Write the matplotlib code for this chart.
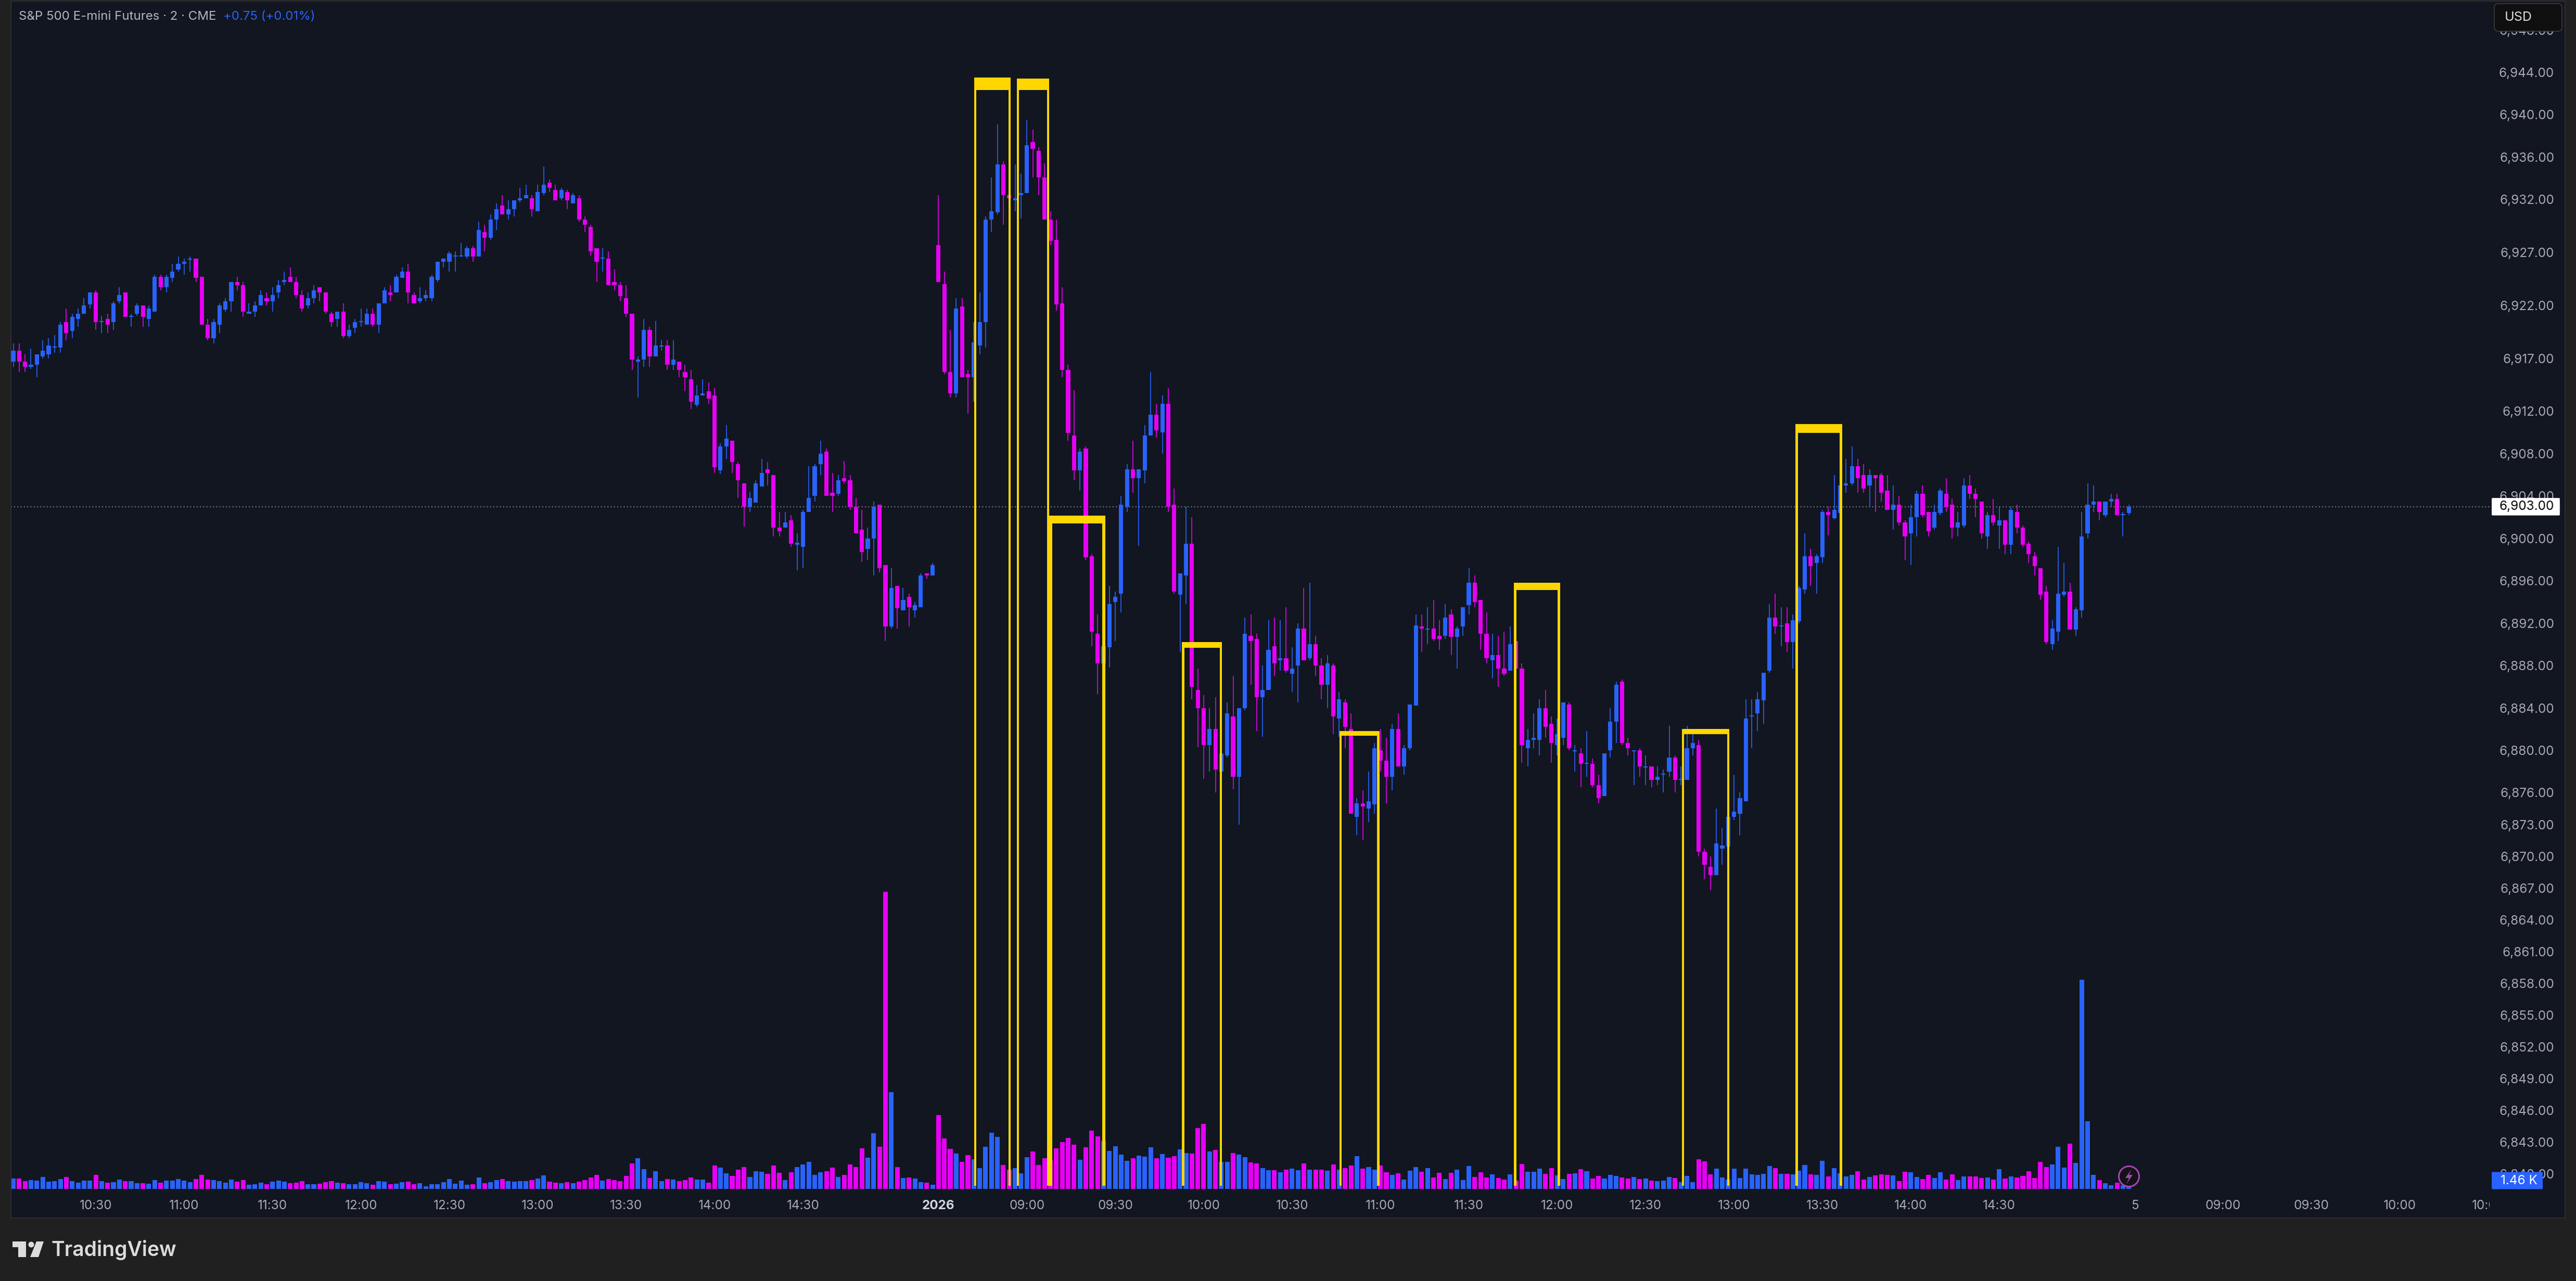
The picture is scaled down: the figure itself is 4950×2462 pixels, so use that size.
import numpy as np
import matplotlib
matplotlib.use("Agg")
import matplotlib.pyplot as plt
from matplotlib.patches import Rectangle, FancyBboxPatch, Circle, Polygon
from matplotlib.transforms import Affine2D, Bbox
from matplotlib.ticker import FuncFormatter

plt.rcParams['font.family'] = ['Inter', 'DejaVu Sans']

high = [
6918.4,6918.4,6917.4,6917.9,6917.4,6918.7,6918.9,6919.2,6920.4,6921.7,
6921.2,6921.7,6922.7,6923.2,6923.4,6921,6921.2,6922.4,6923.7,6923.2,
6921.2,6922.2,6922,6922,6924.9,6924.9,6924.9,6925.9,6926.6,6926.4,
6926.6,6926.4,6924.7,6920.7,6920.7,6922.2,6922.7,6924.2,6924.7,6924.2,
6922.2,6922.4,6923.4,6923.2,6923.7,6924.4,6925.2,6925.6,6924.7,6923.4,
6923.2,6923.9,6923.7,6923.2,6921.4,6921.4,6922.2,6920.2,6920.7,6921.7,
6921.7,6921.7,6922.2,6923.7,6923.9,6924.9,6925.6,6925.9,6923.2,6923.7,
6923.4,6924.9,6926.1,6926.4,6927.1,6927.1,6927.9,6927.6,6927.6,6929.9,
6929.6,6930.6,6931.6,6932.4,6931.9,6931.9,6933.1,6933.4,6932.4,6933.4,
6935.1,6933.9,6933.4,6933.1,6932.9,6932.6,6932.4,6930.4,6929.6,6927.4,
6927.4,6927.1,6925.4,6924.2,6923.9,6921.2,6917.2,6920.7,6920,6920.5,
6918.7,6918.7,6918.7,6916.7,6916.4,6915.9,6914.5,6915,6914.7,6914.2,
6909,6910.7,6909.2,6907.2,6905.2,6904.4,6905.5,6907.5,6907.2,6906,
6902.5,6902.5,6902.2,6900.5,6902.7,6906.8,6907,6909.2,6908.5,6906.2,
6906,6907.3,6906,6903.8,6902.7,6901,6903.5,6903.2,6897.5,6897.2,
6895.5,6895.3,6894.8,6894,6896.7,6896.7,6897.7,6932.4,6925.2,6919.7,
6922.7,6922.7,6915.9,6920.4,6923.2,6930.4,6934.1,6939.1,6935.6,6932.4,
6935.3,6934.4,6939.5,6938.6,6936.9,6935.4,6930.9,6930.1,6923.7,6916.4,
6914,6908.5,6908.7,6898.5,6892.8,6889.8,6895.5,6895,6904,6907,
6909.2,6906.5,6910.7,6915.7,6912.7,6913.5,6914.2,6904.7,6896.7,6903,
6902,6887.7,6885.2,6884,6885,6879.7,6884.5,6887,6884,6892.5,
6892.8,6891,6888,6892.3,6892.5,6892.3,6893.5,6889.7,6892,6895.3,
6895.8,6890.8,6888.7,6889,6888.2,6885.5,6884.8,6883.5,6875.5,6876.2,
6878,6880.7,6882,6881.2,6882.5,6883.5,6880.5,6884.3,6892.8,6892.8,
6893.5,6894.2,6892.3,6893.8,6893.3,6891.7,6893.5,6897.2,6896.5,6894.2,
6893,6891,6890.8,6891.2,6891.7,6890.3,6888.2,6882,6883.5,6884.8,
6885.7,6883.2,6883,6884.5,6884.5,6880.5,6880.2,6881.8,6879.2,6877.7,
6879.7,6884,6886.5,6886.7,6881.2,6880,6880.2,6879.5,6878.5,6878.5,
6878.2,6882.3,6879.5,6878.5,6882.3,6881.5,6881,6870.7,6870,6874.5,
6872.7,6873.7,6877.7,6876,6884.8,6884.8,6885.5,6887.3,6893.8,6894.8,
6893.5,6893.5,6892.8,6895.5,6900.5,6899,6898.5,6902.7,6903,6906,
6905,6907.5,6908.7,6907.5,6907,6906.5,6906,6906.2,6906,6905,
6904,6901.7,6903.2,6904.5,6905,6902.5,6903.2,6904.7,6905.7,6903.7,
6902.5,6905.7,6906,6904.7,6903.5,6902.5,6903.7,6903,6901.7,6903,
6903.2,6901.2,6899.7,6898.7,6897.2,6895.5,6892.3,6899.2,6897.7,6895.8,
6893.5,6902.5,6905.2,6905,6903.5,6903.5,6904.2,6904.2,6902.5,6903.2]

body_top = [
6917.7,6917.7,6916.7,6916.4,6917.4,6917.7,6918.2,6918.1,6920.2,6920.4,
6920.9,6921.2,6922,6923.2,6923.2,6920.5,6920.7,6922.2,6923,6923.2,
6921,6922,6922,6921.7,6924.7,6924.7,6924.7,6925.2,6925.9,6926.1,
6926.4,6926.4,6924.7,6920.2,6920.4,6922,6922.4,6924.2,6924.2,6923.9,
6921.4,6922,6923,6922.7,6923,6923.9,6924.4,6924.7,6924.2,6923,
6922.7,6923.4,6923.7,6923.2,6921.2,6921.4,6921.4,6919.7,6920.4,6920.5,
6921.2,6921.2,6922.2,6923.4,6923.2,6924.7,6925.2,6925.2,6923,6922.7,
6923,6924.7,6926.1,6926.4,6926.9,6926.7,6926.7,6927.4,6927.4,6929.1,
6928.9,6930.1,6931.1,6931.4,6931.1,6931.9,6932.1,6932.4,6932.1,6932.7,
6933.4,6933.6,6932.9,6932.9,6932.7,6932.4,6932.1,6930.1,6929.4,6927.4,
6926.5,6926.4,6924.2,6923.9,6922.7,6921.2,6916.9,6919.7,6919.7,6918.2,
6918.2,6918.2,6916.9,6916.7,6915.7,6915,6913.5,6913.7,6913.9,6913.5,
6908.7,6909.4,6909.2,6907,6905.2,6903.8,6905.2,6906.2,6906.5,6906,
6901,6901.5,6901.7,6899.6,6902.5,6903.8,6906.8,6908,6908.2,6904.3,
6905.5,6905.7,6905.5,6903,6900.8,6900,6903,6903.2,6897.5,6895.3,
6895.5,6894.2,6894.5,6893.7,6896.5,6896.7,6897.5,6927.7,6924,6915.7,
6921.7,6921.9,6915.5,6918.5,6920.4,6930.1,6930.9,6935.3,6935.3,6932.4,
6932.1,6932.6,6937.1,6937.4,6936.6,6934.1,6930.1,6928.2,6922.2,6915.9,
6909.7,6908.2,6908.5,6898.3,6891,6889.8,6893.8,6894.5,6903.2,6906.5,
6906.5,6906.5,6909.7,6911.7,6911.7,6912.7,6912.7,6903.2,6896.7,6899.5,
6899.5,6885.7,6884,6882,6882,6879.7,6883.5,6883.2,6884,6891,
6890.8,6890.5,6885.7,6889.5,6889.8,6888.7,6888.7,6887.7,6891.5,6891.5,
6890,6890,6888,6888.2,6888,6884.8,6884.5,6882,6875,6875,
6875.2,6880.2,6880,6879,6882,6882,6880.2,6884.3,6891.8,6891.7,
6891.5,6891.5,6890.8,6892.5,6892.8,6891.5,6893.5,6895.8,6895.8,6894.2,
6891,6889,6889,6887.7,6890,6890.3,6887.7,6881,6881.2,6884,
6884,6882.5,6881.5,6884.5,6884.3,6880,6879.7,6878.8,6878.7,6876.7,
6879.7,6882.7,6886.2,6886.5,6880.7,6880,6880,6878.5,6878.5,6877.5,
6877.8,6879.3,6879.3,6877.3,6880.2,6880.7,6880.5,6870.4,6869,6871.2,
6871,6873.7,6874.2,6875.5,6883,6883.3,6884.8,6887.3,6892.5,6892.5,
6891.8,6892,6892.3,6895.3,6898.3,6898.3,6898.3,6902.5,6902.5,6902.7,
6905,6905.2,6906.8,6906.8,6906,6906,6906,6906,6904.5,6903.2,
6903.2,6901.5,6902,6904.2,6904.2,6902.5,6902.5,6904.5,6904.2,6903.2,
6901.5,6905,6905,6904.2,6903.5,6902.2,6902.2,6901.7,6901.7,6902.7,
6902.5,6901,6899.5,6898.3,6897.2,6895,6891.5,6894.8,6895,6895,
6893.3,6900.2,6903.2,6903.5,6903.5,6903.5,6903.7,6903.7,6902.3,6903]

body_bottom = [
6916.7,6916.7,6916.2,6916.2,6916.4,6917.2,6917.4,6918,6918,6919.4,
6919.6,6920.7,6921.2,6922.1,6920.4,6920.4,6920.2,6920.4,6922.4,6920.9,
6920.9,6921.2,6920.9,6920.7,6921.4,6923.7,6923.7,6924.6,6925.4,6925.9,
6926.3,6924.6,6920.2,6918.9,6918.9,6920.2,6921.6,6922.4,6923.9,6921.4,
6921.2,6921.4,6922,6922.4,6922.4,6923.2,6924.2,6924.2,6923,6921.7,
6922,6922.7,6923.2,6921.4,6920.4,6920.7,6919.1,6919.1,6919.9,6920.4,
6920.2,6920.2,6920.2,6922.2,6923,6923.2,6924.6,6923.2,6922.2,6922.4,
6922.7,6922.7,6924.4,6926.1,6926.1,6926.6,6926.6,6926.6,6926.6,6926.6,
6928.4,6928.4,6930.1,6930.6,6930.6,6931.1,6931.9,6932.1,6931.1,6930.9,
6932.6,6933.1,6931.9,6932.1,6931.9,6931.6,6930.1,6929.6,6927.1,6926.1,
6926.4,6923.9,6923.9,6922.9,6921.2,6916.9,6916.7,6916.9,6917.2,6917.2,
6918.1,6916.4,6916.4,6915.9,6915.2,6912.9,6912.6,6913.5,6913.2,6906.7,
6906.4,6908.7,6907.2,6905.5,6903,6903,6903.4,6904.9,6906.2,6901,
6900.7,6901,6899.5,6899.4,6899.2,6902.5,6904,6907,6904,6904,
6904.2,6905.4,6903,6900.5,6898.7,6899,6900,6897.2,6891.7,6891.7,
6893.4,6893.2,6893.5,6893.2,6893.5,6896.5,6896.5,6924.2,6915.7,6913.7,
6913.7,6915.2,6915.2,6915.2,6918.2,6920.4,6930.1,6930.8,6932.4,6932.1,
6931.9,6932.4,6932.6,6936.8,6934.1,6930.1,6928.1,6922.1,6915.9,6909.95,
6906.4,6906.4,6898.2,6891.2,6888.2,6888.2,6889.7,6894,6894.8,6903,
6905.7,6905.7,6906.4,6909.7,6910.2,6910,6903,6895,6894.7,6896.5,
6886,6884,6880.5,6880.5,6878.2,6878,6879.5,6877.5,6877.5,6884,
6890.3,6885,6885,6885.7,6888.2,6888.5,6887.5,6887.2,6888,6888.5,
6888.7,6888,6886.2,6886.2,6883.2,6883,6882.2,6874,6873.7,6874.7,
6874.5,6874.9,6879,6877.5,6877.5,6878.5,6878.5,6880.2,6884.2,6891.5,
6891.4,6890.5,6890.5,6890.8,6890.7,6890.7,6891.7,6893.7,6894,6891,
6888.7,6888.5,6887.7,6887.2,6887.5,6887.7,6880.5,6880.2,6881,6881,
6882.2,6880.7,6880.5,6881.2,6880.2,6879.9,6878.7,6878.7,6876.7,6875.5,
6875.7,6880,6882.7,6880.7,6880.2,6879.9,6878.5,6878.4,6877.2,6877.2,
6877.7,6878,6877.2,6877.2,6877.2,6880.2,6870.4,6869.2,6868.2,6868.2,
6870.7,6870.9,6873.7,6874,6875.2,6883.2,6883.5,6884.7,6887.5,6891.7,
6891.7,6890.2,6890.2,6892.2,6895.2,6897.4,6897.7,6898.2,6902.2,6901.9,
6902.4,6905,6905.2,6905.7,6904.7,6905,6905.7,6904.3,6902.7,6902.7,
6901.5,6900.2,6900.5,6902,6902.2,6900.7,6901,6902.4,6903,6901,
6901,6901.2,6904.2,6903.7,6900.5,6900.2,6901.5,6901.2,6899.4,6899.4,
6901,6899.4,6898.5,6897.4,6894.7,6890.2,6890,6891.2,6894.7,6891.4,
6891.4,6893.2,6900.5,6903.2,6902.5,6902.2,6903.5,6902.2,6902.2,6902.4]

low = [
6916.2,6915.7,6915.7,6916,6915.2,6917,6917,6917.5,6917.5,6918.7,
6918.9,6920,6921.2,6921.7,6919.7,6919.4,6919.4,6919.7,6922.2,6920.9,
6920,6921,6920,6920,6921.4,6923.4,6923.2,6924.2,6925.2,6924.9,
6925.2,6924.2,6920.2,6918.7,6918.4,6919.4,6921.4,6921.4,6923.4,6920.9,
6921.2,6920.9,6922,6922,6921.4,6922.7,6923.9,6924.2,6922.7,6921.4,
6921.7,6922.2,6922.4,6921.2,6920,6920,6918.9,6918.9,6919.4,6920,
6920.2,6920,6919.4,6922.2,6922.4,6923.2,6924.6,6922.2,6922.2,6922.2,
6922.4,6922.4,6924.2,6925.6,6925.2,6925.2,6926.6,6926.4,6926.1,6926.6,
6927.1,6928.2,6929.1,6930.6,6930.1,6930.4,6931.7,6932.1,6930.4,6930.9,
6932.4,6932.7,6931.9,6931.9,6931.1,6931.6,6929.9,6928.9,6926.7,6924.2,
6925.2,6923.9,6923.4,6922.4,6920.9,6915.9,6913.3,6916.2,6916.2,6917.2,
6917.7,6915.9,6915.9,6915.2,6913.9,6912.2,6912.4,6913.5,6912.7,6906.2,
6906.1,6907.5,6906.2,6903.8,6901.1,6902.5,6903.4,6904.9,6905,6900.2,
6900.2,6901,6899.2,6897,6897.2,6902.5,6903.5,6906,6904,6902.5,
6904,6905.2,6902.7,6900.5,6897.8,6898,6896.5,6896.8,6890.3,6891.5,
6891.5,6893.2,6891.7,6892.5,6893.5,6896.2,6896.5,6924.2,6915.5,6913.3,
6913.3,6915.2,6911.8,6912.9,6917.4,6918,6928.9,6930.6,6929.6,6931.9,
6930.9,6930.2,6932.6,6934.1,6932.4,6930.1,6927.7,6921.5,6915.2,6909.2,
6905.5,6904.5,6898,6889.8,6885.3,6887.8,6887.8,6890.3,6893,6902.5,
6904.3,6899.3,6905.2,6909.7,6909.5,6908,6902.5,6894.8,6889.3,6893.8,
6884.8,6880.3,6877.3,6878,6876,6878,6879.3,6876.3,6873,6883.8,
6886.2,6881.8,6881.3,6885.7,6887,6887.5,6887.3,6885.5,6884.5,6888.5,
6888.5,6887,6884.8,6884,6881.5,6881.3,6880.2,6874,6872,6871.5,
6873.2,6874,6878,6875,6876.2,6878.5,6877.7,6880,6884.2,6889.3,
6890,6890.3,6889.5,6890.5,6889,6887.7,6890.8,6892.8,6893.5,6889.5,
6888.2,6886.8,6886,6887,6887.5,6887,6878.8,6878.5,6880.2,6879.5,
6881.2,6878.8,6879.5,6880.5,6880,6878,6876.5,6877.5,6876.5,6875,
6875.7,6879.3,6880.7,6880.5,6879.5,6876.7,6877.5,6876.7,6876.5,6876.7,
6876,6877.5,6876,6876.7,6877.2,6879.5,6870,6867.8,6866.8,6868.2,
6869.2,6870.9,6873.4,6872,6875.2,6880.2,6881.8,6882.5,6887.3,6891,
6889.8,6889.3,6887.7,6892,6894.8,6895.5,6894.8,6897.7,6900.3,6901.8,
6902.4,6904.3,6905,6904.3,6904.3,6903,6902.5,6903.5,6902.7,6900.8,
6901.2,6898,6897.5,6900.2,6902,6900.2,6900.8,6902.2,6902.5,6900,
6900.2,6901,6903.7,6902,6900,6899,6901.2,6899,6898.5,6898.5,
6900.5,6899.2,6897.7,6896.5,6894.2,6890,6889.5,6890.3,6894.5,6891.4,
6890.8,6892.5,6900,6902.5,6901.7,6902,6903,6902.2,6900.2,6902.2]

# b = close above open (blue), m = close below open (magenta)
direction = (
"bmmbbbbbbm" "bbbbmbmbbm" "bbmbbmbbbb" "bmmmbbbbmm" "bbbmbbbmmm"
"bbmmmbmbbb" "bmbbmbbmmb" "bbbbbbbbmb" "mbbmbbbbmb" "bmmbmbmmmm"
"bmmmmmbbmb" "bmbmmmbbmm" "bbmmmbbbmm" "mbmbbbbbmm" "bmmmmbbmmb"
"mbmbbmbmmm" "bmmbbbbbmm" "bbbmmmmmmm" "mbmmmbbbbb" "mbbbmbmmbb"
"mmmbmbbmbb" "mmbbmbmbbm" "bmmbmbmmbm" "bbmmbmbbbm" "bmmbmbbbmm"
"mbmmbmmbbb" "mmbbmbmbmm" "bbbmmbmbmb" "bbmbbbmmmb" "bbbbbbbbbm"
"bmbbbmbbmb" "bbbmmbmmmb" "mmbbmmbbmm" "bbmmmbmbmb" "mmmmmmbbbm"
"bbbbmbbmbb")

volume_k = [
2.4,2.4,1.8,2.0,1.9,2.8,1.7,1.8,2.3,2.8,
1.8,1.4,1.9,1.9,3.2,1.8,1.4,1.6,2.2,1.8,
1.8,1.3,1.3,1.2,2.0,1.4,1.9,1.9,2.3,1.9,
1.6,2.3,3.2,2.2,2.0,1.8,1.4,2.2,1.7,2.0,
1.0,1.1,1.4,1.1,1.7,1.9,1.7,1.3,1.4,1.8,
1.1,1.1,1.2,1.6,1.8,1.4,1.3,1.1,1.1,1.6,
1.3,1.0,1.8,1.7,1.1,1.2,1.6,1.7,1.1,1.3,
0.6,1.1,1.1,1.6,2.3,1.2,1.9,1.0,1.1,2.6,
1.3,1.6,2.0,2.3,1.8,1.7,1.8,1.8,2.0,2.4,
3.1,1.7,1.4,1.3,1.6,1.3,1.7,2.0,2.6,3.2,
1.9,2.3,2.0,1.8,3.0,5.9,7.1,4.6,2.5,4.1,
1.8,2.3,2.2,1.8,2.0,2.6,2.2,2.2,1.4,5.4,
4.9,3.6,3.0,4.4,5.0,2.8,4.1,4.0,3.5,5.4,
3.7,2.0,3.9,5.0,5.7,6.2,3.3,3.9,4.1,4.9,
2.8,3.3,5.7,5.1,9.4,7.2,12.8,9.7,68.5,22.3,
5.0,2.5,2.7,2.4,1.6,1.4,1.0,17.0,11.7,9.2,
8.2,6.3,7.8,6.9,4.8,9.7,13.0,12.0,5.5,4.5,
4.8,3.6,7.3,8.6,5.5,7.1,6.7,9.4,10.8,11.8,
10.2,6.7,9.6,13.4,12.1,11.0,8.8,9.8,7.9,6.5,
7.1,7.7,7.4,9.6,7.1,8.0,7.2,7.6,9.1,8.3,
8.2,14.1,15.0,8.6,9.0,6.3,6.3,8.3,7.9,7.3,
6.1,5.9,4.8,4.3,4.3,3.8,4.5,4.7,4.3,5.9,
4.5,4.5,4.5,4.2,5.6,4.5,4.8,5.4,7.6,4.7,
5.0,4.4,5.4,3.8,3.2,3.6,2.2,4.2,5.0,4.0,
4.8,2.6,3.7,2.3,3.7,4.4,2.0,5.3,2.8,3.8,
2.6,3.4,2.5,2.2,3.4,1.9,5.8,4.0,4.0,4.7,
3.5,4.8,3.1,2.3,3.5,3.6,4.6,4.1,2.4,3.0,
2.4,3.2,3.0,2.6,2.4,2.8,2.3,2.4,1.9,1.8,
1.9,2.8,2.5,1.6,3.0,1.6,6.8,6.4,3.4,4.7,
2.6,2.2,4.7,2.5,4.7,3.4,3.2,3.5,5.3,4.8,
3.5,3.5,3.4,4.2,5.5,3.4,3.2,6.5,2.9,4.8,
3.6,2.9,3.2,4.1,2.2,2.8,3.1,3.4,3.2,3.1,
1.8,4.0,3.8,2.8,2.3,3.2,2.5,3.8,2.2,3.4,
2.0,2.9,2.9,2.9,2.5,2.6,2.2,4.6,2.4,2.9,
2.6,3.0,4.1,2.5,6.2,5.1,5.6,9.7,4.9,10.4,
6.0,48.2,15.6,3.3,2.1,1.3,0.9,1.5,0.8,1.46]

price_ticks = [6948,6944,6940,6936,6932,6927,6922,6917,6912,6908,6904,6900,6896,6892,6888,
               6884,6880,6876,6873,6870,6867,6864,6861,6858,6855,6852,6849,6846,6843,6840]
time_ticks = [14,29,44,59,74,89,104,119,134,157,172,187,202,217,232,247,262,277,292,307,322,337,360,375,390,405,420]
time_labels = ["10:30","11:00","11:30","12:00","12:30","13:00","13:30","14:00","14:30","2026",
               "09:00","09:30","10:00","10:30","11:00","11:30","12:00","12:30","13:00","13:30",
               "14:00","14:30","5","09:00","09:30","10:00","10:00"]

# highlighted zones: first bar edge, last bar edge, top price, down to the bottom price
zone_left = [163.06,170.3,175.82,198.3,225.05,254.6,283.15,302.4]
zone_right = [169.24,175.8,185.3,205.1,231.85,262.5,291.2,310.4]
zone_top = [6943.5,6943.4,6902.15,6890.2,6881.8,6895.8,6882.0,6910.8]
zone_bottom = 6838.9
last_price = 6903.0

# ---- style / geometry ----
W, H = 4950, 2462
OUTER, PANE = '#202020', '#121620'
BLUE, MAG, GOLD = '#2962ff', '#e600f7', '#ffd600'
TXT = '#a6a8b0'
L_PX, R_PX, T_PX, B_PX = 21, 4929, 2, 2341
BAR0_PX, STEP_PX = 25.5, 11.324
PT_PX, P_REF, Y_REF = 20.36, 6903.0, 973.7
BASE_PX, K_PX = 2285, 8.33
zone_side_px = [4, 4, 6, 4.5, 4.5, 5.5, 4.5, 5.5]
zone_head_px = [24, 22, 15, 11, 9, 14, 10, 17]

fig = plt.figure(figsize=(W / 100, H / 100), dpi=100, facecolor=OUTER)
rect = [L_PX / W, 1 - B_PX / H, (R_PX - L_PX) / W, (B_PX - T_PX) / H]
xlim = ((L_PX - BAR0_PX) / STEP_PX, (R_PX - BAR0_PX) / STEP_PX)

axv = fig.add_axes(rect, zorder=1, facecolor=PANE)
ax = fig.add_axes(rect, zorder=2, facecolor='none')
px = Affine2D().scale(1, -1).translate(0, H)   # top-left pixel coordinates

x = np.arange(len(high))
high, body_top, body_bottom, low, volume_k = map(np.array, (high, body_top, body_bottom, low, volume_k))
assert all(len(a) == 360 for a in (high, body_top, body_bottom, low, volume_k, direction))
cols = [BLUE if d == 'b' else MAG for d in direction]

# volume pane
axv.bar(x, volume_k, width=0.8, color=cols, linewidth=0)
axv.set_xlim(*xlim)
axv.set_ylim(-(B_PX - BASE_PX) / K_PX, (BASE_PX - T_PX) / K_PX)
axv.axis('off')
axv.add_patch(Rectangle((0, 0), 1, 1, transform=axv.transAxes, color=PANE, zorder=-5))

# price pane
ax.plot([xlim[0], (4788 - BAR0_PX) / STEP_PX], [last_price, last_price], color='#b9bdc6', linewidth=1.1,
        linestyle=(0, (1.1, 3.0)), dash_capstyle='butt', zorder=1)
ax.vlines(x, low, high, colors=cols, linewidth=1.2, zorder=2)
ax.bar(x, body_top - body_bottom, bottom=body_bottom, width=0.72, color=cols, linewidth=0, zorder=3)

for l, r, t, s, h in zip(zone_left, zone_right, zone_top, zone_side_px, zone_head_px):
    sw, hh = s / STEP_PX, h / PT_PX
    ax.add_patch(Rectangle((l, zone_bottom), sw, t - zone_bottom, color=GOLD, linewidth=0, zorder=4))
    ax.add_patch(Rectangle((r - sw, zone_bottom), sw, t - zone_bottom, color=GOLD, linewidth=0, zorder=4))
    ax.add_patch(Rectangle((l, t - hh), r - l, hh, color=GOLD, linewidth=0, zorder=4))

ax.set_xlim(*xlim)
ax.set_ylim(P_REF - (B_PX - Y_REF) / PT_PX, P_REF + (Y_REF - T_PX) / PT_PX)
ax.yaxis.tick_right()
ax.set_yticks(price_ticks)
ax.yaxis.set_major_formatter(FuncFormatter(lambda v, _: f"{v:,.2f}"))
ax.tick_params(axis='y', length=0, pad=-15, labelsize=17.5, labelcolor=TXT)
for lb in ax.get_yticklabels():
    lb.set_horizontalalignment('right')
ax.set_xticks(time_ticks)
ax.set_xticklabels(time_labels)
ax.tick_params(axis='x', length=0, pad=-25, labelsize=17.5, labelcolor=TXT)
xl = ax.get_xticklabels()
xl[time_labels.index("2026")].set_fontweight('bold')
xl[time_labels.index("2026")].set_color('#d1d4dc')
xl[-1].set_clip_on(True)
xl[-1].set_clip_box(Bbox([[0, 0], [4784, H]]))
for s in ax.spines.values():
    s.set_color('#2c2d31')
    s.set_linewidth(1.6)

# header text
fig.text(36, 32, "S&P 500 E-mini Futures · 2 · CME", transform=px, va='center', ha='left',
         fontsize=17.3, color='#b4b6bd', zorder=6)
fig.text(429, 32, "+0.75 (+0.01%)", transform=px, va='center', ha='left',
         fontsize=17.3, color=BLUE, zorder=6)

# USD box
fig.add_artist(FancyBboxPatch((4793, 7), 130, 53, boxstyle="round,pad=0,rounding_size=8",
                              transform=px, facecolor='#0f0f0f', edgecolor='#3c3c3c', linewidth=1.2, zorder=5))
fig.text(4813, 33, "USD", transform=px, va='center', ha='left', fontsize=18, color='#dbdbdb', zorder=6)

# last price and volume labels
fig.add_artist(FancyBboxPatch((4788, 957), 131, 33.6, boxstyle="round,pad=0,rounding_size=2", transform=px,
                              facecolor='white', edgecolor='none', zorder=5))
fig.text(4908, 973.7, "6,903.00", transform=px, va='center', ha='right', fontsize=17.5, color='black', zorder=6)
fig.add_artist(FancyBboxPatch((4788, 2252.5), 98, 33, boxstyle="round,pad=0,rounding_size=2", transform=px,
                              facecolor=BLUE, edgecolor='none', zorder=5))
fig.text(4805, 2269, "1.46 K", transform=px, va='center', ha='left', fontsize=17.5, color='white', zorder=6)

# lightning badge
fig.add_artist(Circle((4091, 2261), 19.5, transform=px, facecolor='#131316', edgecolor='#a844b4', linewidth=2.2, zorder=5))
fig.add_artist(Polygon([(4096, 2247), (4084, 2264), (4091, 2264), (4086, 2276), (4098, 2258), (4091, 2258)],
                       closed=True, transform=px, facecolor='#a844b4', edgecolor='none', zorder=6))

# TradingView logo
LOGO = '#dcdcdc'
fig.add_artist(Polygon([(24, 2386), (50, 2386), (50, 2416), (35, 2416), (35, 2397), (24, 2397)], closed=True,
                       transform=px, facecolor=LOGO, edgecolor='none', zorder=5))
fig.add_artist(Circle((60, 2392), 5.5, transform=px, facecolor=LOGO, edgecolor='none', zorder=5))
fig.add_artist(Polygon([(70, 2386), (84, 2386), (74, 2416), (58, 2416)], closed=True,
                       transform=px, facecolor=LOGO, edgecolor='none', zorder=5))
fig.text(98, 2402, "TradingView", transform=px, va='center', ha='left', fontsize=28, fontweight='semibold',
         color=LOGO, zorder=6)

fig.savefig("out.png", dpi=100, facecolor=OUTER)
